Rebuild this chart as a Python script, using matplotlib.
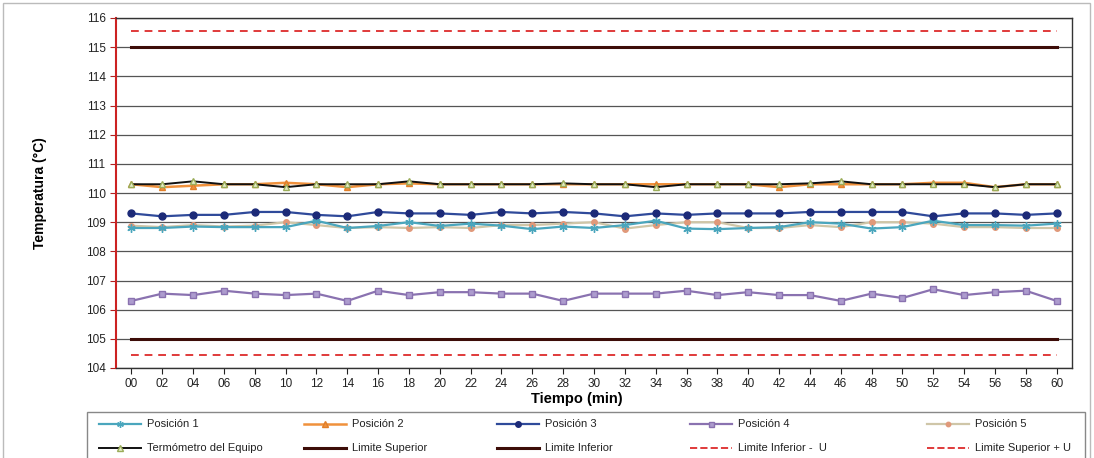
import matplotlib
matplotlib.use("Agg")
import matplotlib.pyplot as plt
from matplotlib.patches import Rectangle
from matplotlib.lines import Line2D

plt.rcParams['font.family'] = ['Liberation Sans', 'DejaVu Sans']

tiempos = ["00","02","04","06","08","10","12","14","16","18","20","22","24","26","28","30",
           "32","34","36","38","40","42","44","46","48","50","52","54","56","58","60"]

pos1 = [108.8,108.8,108.85,108.83,108.83,108.83,109.05,108.8,108.87,109.0,108.87,108.95,108.88,108.76,108.85,
        108.8,108.9,109.05,108.78,108.76,108.8,108.83,109.0,108.95,108.78,108.83,109.05,108.9,108.9,108.88,108.95]
pos2 = [110.3,110.2,110.25,110.3,110.3,110.35,110.3,110.2,110.3,110.33,110.3,110.3,110.3,110.3,110.3,
        110.3,110.3,110.3,110.3,110.3,110.3,110.2,110.3,110.3,110.3,110.3,110.35,110.35,110.2,110.3,110.3]
pos3 = [109.3,109.2,109.25,109.25,109.35,109.35,109.25,109.2,109.35,109.3,109.3,109.25,109.35,109.3,109.35,
        109.3,109.2,109.3,109.25,109.3,109.3,109.3,109.35,109.35,109.35,109.35,109.2,109.3,109.3,109.25,109.3]
pos4 = [106.3,106.55,106.5,106.65,106.55,106.5,106.55,106.3,106.65,106.5,106.6,106.6,106.55,106.55,106.3,
        106.55,106.55,106.55,106.65,106.5,106.6,106.5,106.5,106.3,106.55,106.4,106.7,106.5,106.6,106.65,106.3]
pos5 = [108.88,108.83,108.9,108.85,108.88,109.0,108.9,108.8,108.83,108.8,108.83,108.8,108.9,108.9,108.95,
        109.0,108.78,108.9,109.0,109.0,108.8,108.8,108.9,108.83,109.0,109.0,108.95,108.83,108.83,108.8,108.8]
termometro = [110.3,110.3,110.4,110.3,110.3,110.2,110.3,110.3,110.3,110.4,110.3,110.3,110.3,110.3,110.33,
              110.3,110.3,110.2,110.3,110.3,110.3,110.3,110.33,110.4,110.3,110.3,110.3,110.3,110.2,110.3,110.3]
limite_superior = 115.0
limite_inferior = 105.0
incertidumbre = 0.55

x = list(range(len(tiempos)))
W, H = 1094, 458

fig = plt.figure(figsize=(W/100, H/100), dpi=100)
ax = fig.add_axes([116/W, 1-368/H, (1072-116)/W, (368-18)/H])

ax.set_ylim(104, 116)
ax.set_xlim(-0.5, len(tiempos)-0.5)
ax.set_yticks(range(104, 117))
ax.yaxis.grid(True, color='#555555', linewidth=0.9)
ax.set_axisbelow(True)

h_ls, = ax.plot(x, [limite_superior]*len(x), color='#3d0d08', linewidth=2.2, label='Limite Superior', zorder=2)
h_li, = ax.plot(x, [limite_inferior]*len(x), color='#3d0d08', linewidth=2.2, label='Limite Inferior', zorder=2)
h_liu, = ax.plot(x, [limite_inferior-incertidumbre]*len(x), color='#e03a3a', linewidth=1.4,
                 linestyle=(0, (4, 3)), label='Limite Inferior -  U', zorder=2)
h_lsu, = ax.plot(x, [limite_superior+incertidumbre]*len(x), color='#e03a3a', linewidth=1.4,
                 linestyle=(0, (4, 3)), label='Limite Superior + U', zorder=2)

h1, = ax.plot(x, pos1, color='#4aa6bd', linewidth=1.6, marker=(6, 2, 0), markersize=6,
              markeredgecolor='#4aa6bd', label='Posición 1', zorder=4)
h5, = ax.plot(x, pos5, color='#cfc6a8', linewidth=1.6, marker='o', markersize=4,
              markerfacecolor='#e0997a', markeredgecolor='#e0997a', label='Posición 5', zorder=3)
h2, = ax.plot(x, pos2, color='#f0913c', linewidth=1.8, marker='^', markersize=5,
              markerfacecolor='#f0913c', markeredgecolor='#e07f2a', label='Posición 2', zorder=3)
h6, = ax.plot(x, termometro, color='#111111', linewidth=1.4, marker='^', markersize=5,
              markerfacecolor='#e4ecc8', markeredgecolor='#9bad5a', label='Termómetro del Equipo', zorder=4)
h3, = ax.plot(x, pos3, color='#2f4a9a', linewidth=1.6, marker='o', markersize=5,
              markerfacecolor='#1c2a78', markeredgecolor='#1c2a78', label='Posición 3', zorder=4)
h4, = ax.plot(x, pos4, color='#8a72b0', linewidth=1.6, marker='s', markersize=4.5,
              markerfacecolor='#ad9cce', markeredgecolor='#8a72b0', label='Posición 4', zorder=4)

ax.set_xticks(x)
ax.set_xticklabels(tiempos)
ax.tick_params(axis='both', labelsize=8.5, colors='#222222', length=4)
ax.tick_params(axis='y', colors='#b02020', labelcolor='#222222')

for s in ['top', 'right', 'bottom']:
    ax.spines[s].set_color('#333333')
    ax.spines[s].set_linewidth(1.0)
ax.spines['left'].set_color('#cc2222')
ax.spines['left'].set_linewidth(1.5)

ax.set_ylabel('Temperatura (°C)', fontsize=10, fontweight='bold', labelpad=28)
ax.set_xlabel('Tiempo (min)', fontsize=10.5, fontweight='bold', labelpad=1)
ax.xaxis.set_label_coords((577-116)/(1072-116), -0.068)

# legend box
fig.patches.append(Rectangle((87/W, -0.02), (1085-87)/W, 0.02+1-412/H,
                             transform=fig.transFigure, fill=False, edgecolor='#888888',
                             linewidth=1.0, clip_on=False))
# outer border
fig.patches.append(Rectangle((3/W, -0.02), (1090-3)/W, 1-3/H+0.02,
                             transform=fig.transFigure, fill=False, edgecolor='#bbbbbb',
                             linewidth=1.0, clip_on=False))

# manual legend layout (row-major, as in reference)
rows = [[h1, h2, h3, h4, h5], [h6, h_ls, h_li, h_liu, h_lsu]]
col_text_x = [147, 352, 545, 738, 975]
row_y = [424, 448]
for r, hs in enumerate(rows):
    for c, h in enumerate(hs):
        tx = col_text_x[c]
        y = 1 - row_y[r]/H
        x0, x1 = (tx-48)/W, (tx-6)/W
        ln = Line2D([x0, x1], [y, y], transform=fig.transFigure, color=h.get_color(),
                    linewidth=h.get_linewidth(), linestyle=h.get_linestyle())
        fig.add_artist(ln)
        if h.get_marker() not in (None, 'None', ''):
            mk = Line2D([(x0+x1)/2], [y], transform=fig.transFigure, linestyle='None',
                        marker=h.get_marker(), markersize=h.get_markersize()*0.8,
                        markerfacecolor=h.get_markerfacecolor(),
                        markeredgecolor=h.get_markeredgecolor())
            fig.add_artist(mk)
        fig.text(tx/W, y, h.get_label(), fontsize=8, va='center', ha='left', color='#222222')

fig.savefig('out.png', dpi=100)
